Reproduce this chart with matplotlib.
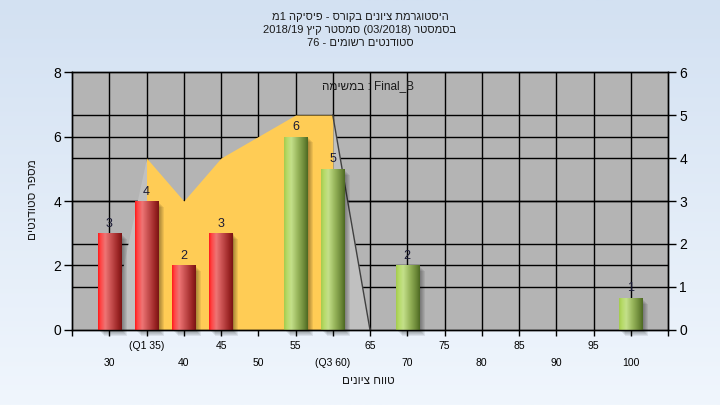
import re
import numpy as np
import matplotlib.pyplot as plt
from matplotlib.colors import LinearSegmentedColormap

plt.rcParams['font.family'] = ['Liberation Sans', 'DejaVu Sans']

# histogram: number of students per grade bin
grades = [30, 35, 40, 45, 55, 60, 70, 100]
students = [3, 4, 2, 3, 6, 5, 2, 1]
pass_grade = 55

# area series on the right axis
area_x = [30, 35, 40, 45, 50, 55, 60, 65]
area_y = [0, 4, 3, 4, 4.5, 5, 5, 0]
q1 = 35
q3 = 60

row1_ticks = [25, 35, 45, 55, 65, 75, 85, 95, 105]
row1_labels = ["", "(Q1 35)", "45", "55", "65", "75", "85", "95", ""]
row2_ticks = [30, 40, 50, 60, 70, 80, 90, 100]
row2_labels = ["30", "40", "50", "(Q3 60)", "70", "80", "90", "100"]
left_ticks = [0, 2, 4, 6, 8]
right_ticks = [0, 1, 2, 3, 4, 5, 6]

title_lines = [
    "היסטוגרמת ציונים בקורס - פיסיקה 1מ",
    "בסמסטר (03/2018) סמסטר קיץ 2018/19",
    "סטודנטים רשומים - 76",
]
exam_word = "במשימה"
exam_name = "Final_B"
x_title = "טווח ציונים"
y_title = "מספר סטודנטים"


def visual(s):
    # matplotlib has no bidi: lay out a right-to-left line by hand,
    # keeping numbers and latin words in their own order
    parts = re.findall(r"[0-9A-Za-z_/.]+|.", s)
    mirror = {"(": ")", ")": "("}
    return "".join(mirror.get(p, p) for p in reversed(parts))


fig = plt.figure(figsize=(7.2, 4.05), dpi=100)

# background gradient
bg = fig.add_axes([0, 0, 1, 1], zorder=-10)
bg_cmap = LinearSegmentedColormap.from_list("bg", ["#D3E1F2", "#F0F6FD"])
bg.imshow(np.linspace(0, 1, 256).reshape(-1, 1), cmap=bg_cmap, aspect="auto",
          extent=[0, 1, 0, 1])
bg.axis("off")

ax = fig.add_axes([0.1, 0.1852, 0.8278, 0.637])
ax2 = ax.twinx()
ax.set_zorder(2)
ax2.set_zorder(1)
ax.patch.set_visible(False)
ax2.patch.set_visible(True)
ax2.set_facecolor("#B4B4B4")

ax.set_xlim(25, 105)
ax.set_ylim(0, 8)
ax2.set_ylim(0, 6)

# grid (behind the area)
ax2.vlines(sorted(row1_ticks[1:-1] + row2_ticks), 0, 6, colors="black", lw=1, zorder=0.5)
ax2.hlines(right_ticks[1:-1], 25, 105, colors="black", lw=1, zorder=0.5)
ax2.hlines(left_ticks[1:-1], 25, 105, colors="black", lw=1, zorder=0.5,
           transform=ax.transData)

# area: yellow between Q1 and Q3, light gray outside
ax_ = np.array(area_x)
ay_ = np.array(area_y)
inner = (ax_ >= q1) & (ax_ <= q3)
lower = ax_ <= q1
upper = ax_ >= q3
ax2.fill_between(ax_[lower], ay_[lower], color="#C0C0C0", lw=0, zorder=1)
ax2.fill_between(ax_[upper], ay_[upper], color="#C0C0C0", lw=0, zorder=1)
ax2.fill_between(ax_[inner], ay_[inner], color="#FFCC55", lw=0, zorder=1.1)
ax2.plot(ax_[upper], ay_[upper], color="#404040", lw=1, zorder=1.2)

# bars with cylinder shading
red_cmap = LinearSegmentedColormap.from_list(
    "red", [(0, "#FF1A1A"), (0.1, "#FF4545"), (0.3, "#EE7575"),
            (0.6, "#C04848"), (0.85, "#9A2424"), (1, "#7A1414")])
green_cmap = LinearSegmentedColormap.from_list(
    "green", [(0, "#A4CC4E"), (0.12, "#B6DA68"), (0.3, "#C4E08A"),
              (0.6, "#94B258"), (0.85, "#6C8838"), (1, "#4E6A22")])
grad = np.linspace(0, 1, 64).reshape(1, -1)
bar_w = 3.1

for g, n in zip(grades, students):
    cmap = green_cmap if g >= pass_grade else red_cmap
    for k in range(1, 7):
        ax.bar(g + k * 0.13, n, bar_w, bottom=-k * 0.03, color="black",
               alpha=0.07, lw=0, zorder=1, clip_on=False)
    bar = ax.bar(g, n, bar_w, color=cmap(0.5), lw=0, zorder=2)[0]
    img = ax.imshow(grad, cmap=cmap, aspect="auto", zorder=2.1,
                    extent=[g - bar_w / 2, g + bar_w / 2, 0, n])
    img.set_clip_path(bar)
    ax.annotate(str(n), (g, n), xytext=(0, 2.5), textcoords="offset points",
                ha="center", va="bottom", fontsize=9, color="#1A1A35", zorder=3)

ax.set_xlim(25, 105)
ax.set_ylim(0, 8)

# ticks
ax.set_yticks(left_ticks)
ax2.set_yticks(right_ticks)
ax.tick_params(axis="y", length=6, width=1, labelsize=10, pad=2, colors="black")
ax2.tick_params(axis="y", length=6, width=1, labelsize=10, pad=2, colors="black")
ax.set_xticks(row1_ticks, row1_labels)
ax.set_xticks(row2_ticks, row2_labels, minor=True)
ax.tick_params(axis="x", which="both", length=4, width=1, labelsize=7.5)
ax.tick_params(axis="x", which="major", pad=4)
ax.tick_params(axis="x", which="minor", pad=16)
for a in (ax, ax2):
    for s in a.spines.values():
        s.set_color("black")
        s.set_linewidth(1)

ax.text(0.497, 0.946, visual(exam_word) + " : " + exam_name, transform=ax.transAxes,
        ha="center", va="center", fontsize=8.5, color="#1A1A1A", zorder=4)

for i, line in enumerate(title_lines):
    fig.text(0.5, 1 - (17 + 13 * i) / 405, visual(line), ha="center", va="center",
             fontsize=8, color="#1A1A1A")
fig.text(368 / 720, 1 - 381 / 405, visual(x_title), ha="center", va="center",
         fontsize=8.5, color="#1A1A1A")
fig.text(33 / 720, 1 - 200 / 405, visual(y_title), ha="center", va="center",
         rotation=90, fontsize=8.5, color="#1A1A1A")

fig.savefig("out.png", dpi=100)
